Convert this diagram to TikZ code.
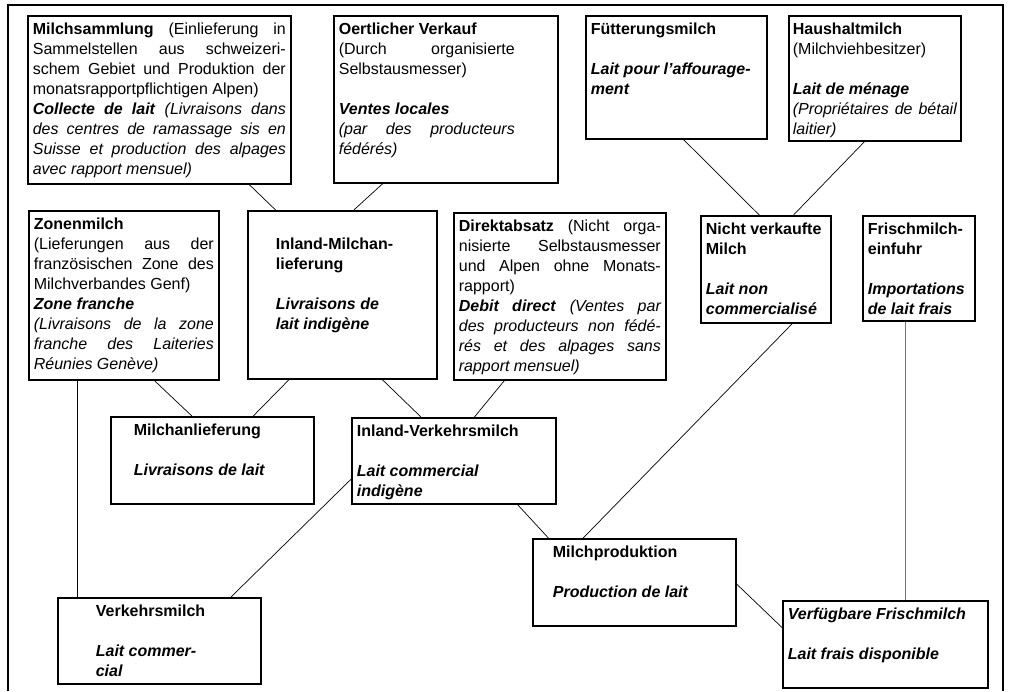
\documentclass[tikz,border=0pt]{standalone}
\usepackage{fontspec}
\setmainfont{Liberation Sans}
\usetikzlibrary{calc}
\tikzstyle{tbox}=[draw, line width=1.7pt, anchor=north west, inner xsep=5pt, inner ysep=5pt]
\tikzstyle{link}=[line width=0.7pt]
\tikzstyle{faint}=[line width=0.6pt, black!55]
\tikzstyle{frame}=[line width=1.7pt]
\newcommand{\bx}[3]{\parbox[t][#2pt][t]{#1pt}{\sloppy\strut #3}}
\newcommand{\gb}[1]{\textbf{#1}}
\newcommand{\fb}[1]{\textbf{\textit{#1}}}

\begin{document}
\begin{tikzpicture}[x=1pt, y=-1pt, font=\fontsize{16}{20}\selectfont]
    \useasboundingbox (0,0) rectangle (1011,691);
    \draw [frame] (8,691) -- (8,5) -- (1003,5) -- (1003,691);
    % top row
    \node (samm) [tbox] at (27,15) {\bx{253}{158}{\gb{Milchsammlung} (Einlieferung in\linebreak Sammelstellen aus schweizeri-\linebreak schem Gebiet und Produktion der\linebreak monatsrapportpflichtigen Alpen)\\ \fb{Collecte de lait} \textit{(Livraisons dans\linebreak des centres de ramassage sis en\linebreak Suisse et production des alpages\linebreak avec rapport mensuel)}}};
    \node (oert) [tbox] at (333,15) {\bx{176}{157}{\gb{Oertlicher Verkauf}\\ (Durch organisierte\linebreak Selbstausmesser)\\[20pt] \fb{Ventes locales}\\ \textit{(par des producteurs\linebreak fédérés)}}\hspace*{38pt}};
    \node (fuet) [tbox] at (585,15) {\bx{171}{113}{\gb{Fütterungsmilch}\\[20pt] \fb{Lait pour l'affourage-\\ment}}};
    \node (haus) [tbox, inner xsep=4pt] at (788,15) {\bx{164}{115}{\gb{Haushaltmilch}\\ (Milchviehbesitzer)\\[20pt] \fb{Lait de ménage}\\ \textit{(Propriétaires de bétail\linebreak laitier)}}};
    % second row
    \node (zone) [tbox] at (28,210) {\bx{180}{159}{\gb{Zonenmilch}\\ (Lieferungen aus der\linebreak französischen Zone des\linebreak Milchverbandes Genf)\\ \fb{Zone franche}\\ \textit{(Livraisons de la zone\linebreak franche des Laiteries\linebreak Réunies Genève)}}};
    \node (inmi) [tbox, inner xsep=28pt] at (247,210) {\bx{133}{158}{\\ \gb{Inland-Milchan-\\lieferung}\\[20pt] \fb{Livraisons de\\lait indigène}}};
    \node (dire) [tbox] at (453,212) {\bx{202}{157}{\gb{Direktabsatz} (Nicht orga-\linebreak nisierte Selbstausmesser\linebreak und Alpen ohne Monats-\linebreak rapport)\\ \fb{Debit direct} \textit{(Ventes par\linebreak des producteurs non fédé-\linebreak rés et des alpages sans\linebreak rapport mensuel)}}};
    \node (nich) [tbox] at (700,215) {\bx{120}{97}{\gb{Nicht verkaufte\\Milch}\\[20pt] \fb{Lait non\\commercialisé}}};
    \node (frei) [tbox] at (862,215) {\bx{102}{95}{\gb{Frischmilch-\\einfuhr}\\[20pt] \fb{Importations\\de lait frais}}};
    % lower boxes
    \node (mila) [tbox, inner xsep=23pt] at (110,416) {\bx{157}{77}{\gb{Milchanlieferung}\\[20pt] \fb{Livraisons de lait}}};
    \node (inve) [tbox] at (351,417) {\bx{194}{76}{\gb{Inland-Verkehrsmilch}\\[20pt] \fb{Lait commercial\\indigène}}};
    \node (verk) [tbox, inner xsep=38pt] at (57,597) {\bx{127}{76}{\gb{Verkehrsmilch}\\[20pt] \fb{Lait commer-\\cial}}};
    \node (prod) [tbox, inner xsep=20pt] at (532,538) {\bx{163}{77}{\gb{Milchproduktion}\\[20pt] \fb{Production de lait}}};
    \node (verf) [tbox] at (782,600) {\bx{195}{77}{\fb{Verfügbare Frischmilch}\\[20pt] \fb{Lait frais disponible}}};
    % connectors
    \draw [link] ($(samm.south west)!.84!(samm.south east)$) -- ($(inmi.north west)!.15!(inmi.north east)$);
    \draw [link] ($(oert.south west)!.22!(oert.south east)$) -- ($(inmi.north west)!.56!(inmi.north east)$);
    \draw [link] ($(fuet.south west)!.54!(fuet.south east)$) -- ($(nich.north west)!.45!(nich.north east)$);
    \draw [link] ($(haus.south west)!.44!(haus.south east)$) -- ($(nich.north west)!.71!(nich.north east)$);
    \draw [link] ($(zone.south west)!.66!(zone.south east)$) -- ($(mila.north west)!.40!(mila.north east)$);
    \draw [link] ($(inmi.south west)!.22!(inmi.south east)$) -- ($(mila.north west)!.70!(mila.north east)$);
    \draw [link] ($(inmi.south west)!.71!(inmi.south east)$) -- ($(inve.north west)!.34!(inve.north east)$);
    \draw [link] ($(dire.south west)!.24!(dire.south east)$) -- ($(inve.north west)!.60!(inve.north east)$);
    \coordinate (zb) at ($(zone.south west)!.26!(zone.south east)$);
    \draw [link] (zb) -- (zb |- verk.north);
    \draw [link] ($(verk.north west)!.85!(verk.north east)$) -- ($(inve.north west)!.71!(inve.south west)$);
    \draw [link] ($(inve.south west)!.81!(inve.south east)$) -- ($(prod.north west)!.08!(prod.north east)$);
    \draw [link] ($(nich.south west)!.70!(nich.south east)$) -- ($(prod.north west)!.25!(prod.north east)$);
    \draw [link] ($(prod.north east)!.52!(prod.south east)$) -- ($(verf.north west)!.31!(verf.south west)$);
    \coordinate (fb) at ($(frei.south west)!.38!(frei.south east)$);
    \draw [faint] (fb) -- (fb |- verf.north);
\end{tikzpicture}
\end{document}
